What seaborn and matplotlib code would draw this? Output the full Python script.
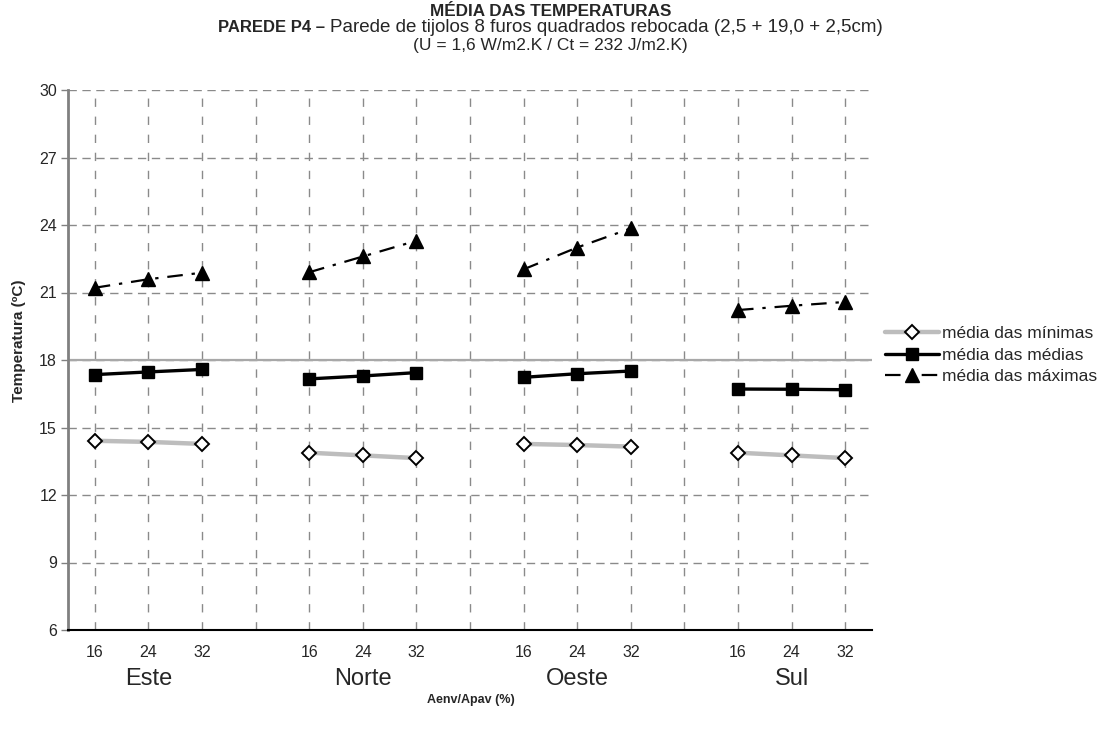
import matplotlib
matplotlib.use("Agg")
import matplotlib.pyplot as plt
import numpy as np
import pandas as pd
import seaborn as sns
from matplotlib.lines import Line2D
from matplotlib.transforms import blended_transform_factory

# Orientações e relações Aenv/Apav (%)
orientacoes = ["Este", "Norte", "Oeste", "Sul"]
aberturas = ["16", "24", "32"]

# Temperaturas médias (ºC), por orientação e abertura
media_minimas = [14.41, 14.36, 14.27, 13.88, 13.76, 13.64,
                 14.27, 14.22, 14.15, 13.88, 13.76, 13.64]
media_medias = [17.35, 17.47, 17.58, 17.16, 17.29, 17.44,
                17.23, 17.39, 17.51, 16.71, 16.70, 16.68]
media_maximas = [21.21, 21.59, 21.88, 21.90, 22.60, 23.30,
                 22.03, 23.00, 23.85, 20.22, 20.41, 20.58]

series = {
    "média das mínimas": media_minimas,
    "média das médias": media_medias,
    "média das máximas": media_maximas,
}

linhas = []
for serie, valores in series.items():
    for g, ori in enumerate(orientacoes):
        for k, ab in enumerate(aberturas):
            linhas.append({
                "serie": serie,
                "orientacao": ori,
                "abertura": ab,
                "pos": g * (len(aberturas) + 1) + k,
                "temp": valores[g * len(aberturas) + k],
            })
df = pd.DataFrame(linhas)

sns.set_theme(style="white")
plt.rcParams["font.family"] = ["Liberation Sans", "DejaVu Sans"]

fig = plt.figure(figsize=(11.01, 7.36), dpi=100)
ax = fig.add_axes([68 / 1101, 1 - 630 / 736, (872 - 68) / 1101, 540 / 736])

estilos = {
    "média das mínimas": dict(color="#bdbdbd", lw=3.2, linestyle="-", marker="D",
                             ms=7, mfc="white", mec="black", mew=1.4, zorder=4),
    "média das médias": dict(color="black", lw=2.4, linestyle="-", marker="s",
                            ms=9, mfc="black", mec="black", mew=1, zorder=5),
    "média das máximas": dict(color="black", lw=1.6, linestyle=(0, (7, 4, 1.5, 4)),
                             marker="^", ms=10, mfc="black", mec="black", mew=1, zorder=5),
}

for serie, st in estilos.items():
    sub = df[df["serie"] == serie]
    sns.lineplot(data=sub, x="pos", y="temp", units="orientacao", estimator=None,
                 ax=ax, legend=False, **st)

# Eixos e grelha
n_pos = len(orientacoes) * (len(aberturas) + 1) - 1
ax.set_xlim(-0.5, n_pos - 0.5)
ax.set_ylim(6, 30)
ax.set_yticks(np.arange(6, 31, 3))
tick_labels = []
for g in range(len(orientacoes)):
    tick_labels += aberturas
    if g < len(orientacoes) - 1:
        tick_labels.append("")
ax.set_xticks(range(n_pos))
ax.set_xticklabels(tick_labels, fontsize=11.5)
ax.tick_params(axis="x", length=0, pad=11)
ax.tick_params(axis="y", left=True, length=5, width=1, color="#808080",
               labelsize=11.5, pad=3)

grid_kw = dict(color="#8a8a8a", lw=1.0)
ax.yaxis.grid(True, linestyle=(0, (6, 4)), **grid_kw)
ax.xaxis.grid(True, linestyle=(0, (6, 7)), **grid_kw)
ax.set_axisbelow(True)
ax.axhline(18, color="#a8a8a8", lw=1.6, zorder=1)

for s in ("top", "right"):
    ax.spines[s].set_visible(False)
ax.spines["left"].set_color("#808080")
ax.spines["left"].set_linewidth(2)
ax.spines["bottom"].set_color("black")
ax.spines["bottom"].set_linewidth(1.5)

ax.set_xlabel("")
ax.set_ylabel("Temperatura (ºC)", fontsize=11, fontweight="bold")
ax.yaxis.set_label_coords(-0.0525, 0.535)

# Nomes das orientações por baixo dos valores de abertura
trans = blended_transform_factory(ax.transData, ax.transAxes)
for g, ori in enumerate(orientacoes):
    ax.text(g * (len(aberturas) + 1) + 1, -0.09, ori, transform=trans,
            ha="center", va="center", fontsize=17)

fig.text(471 / 1101, 1 - 700 / 736, "Aenv/Apav (%)", ha="center", va="center",
         fontsize=9, fontweight="bold")

# Títulos
fig.text(0.5, 1 - 11.5 / 736, "MÉDIA DAS TEMPERATURAS", ha="center", va="center",
         fontsize=12.3, fontweight="bold")
t1 = fig.text(0.5, 1 - 28 / 736, "PAREDE P4 – ", ha="left", va="center",
              fontsize=12, fontweight="bold")
t2 = fig.text(0.5, 1 - 28 / 736,
              "Parede de tijolos 8 furos quadrados rebocada (2,5 + 19,0 + 2,5cm)",
              ha="left", va="center", fontsize=13.5)
fig.text(0.5, 1 - 45.5 / 736, "(U = 1,6 W/m2.K / Ct = 232 J/m2.K)", ha="center",
         va="center", fontsize=12.5)

fig.canvas.draw()
r = fig.canvas.get_renderer()
w1 = t1.get_window_extent(r).width
w2 = t2.get_window_extent(r).width
W = fig.bbox.width
x0 = (W - (w1 + w2)) / 2
t1.set_x(x0 / W)
t2.set_x((x0 + w1) / W)

# Legenda
handles = []
for serie, st in estilos.items():
    handles.append(Line2D([], [], color=st["color"], lw=st["lw"], linestyle=st["linestyle"],
                          marker=st["marker"], ms=st["ms"], mfc=st["mfc"],
                          mec=st["mec"], mew=st["mew"]))
fig.legend(handles, list(estilos.keys()), loc="center left",
           bbox_to_anchor=(885 / 1101, 1 - 355 / 736), frameon=False,
           fontsize=12.5, handlelength=3.1, handletextpad=0.2, labelspacing=0.35,
           borderaxespad=0, borderpad=0)

fig.savefig("out.png", dpi=100)
